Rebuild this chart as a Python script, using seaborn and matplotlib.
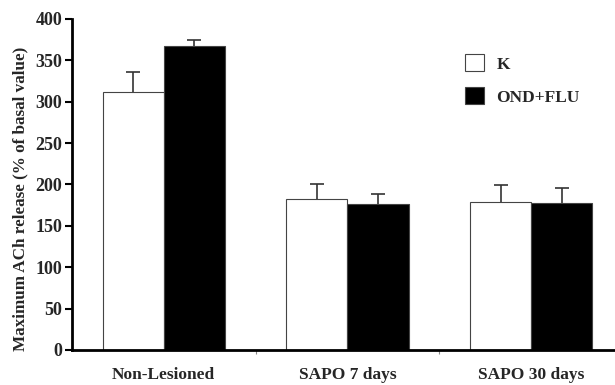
import matplotlib
matplotlib.use("Agg")
import matplotlib.pyplot as plt
import seaborn as sns
import pandas as pd
import numpy as np

groups = ["Non-Lesioned", "SAPO 7 days", "SAPO 30 days"]
series = ["K", "OND+FLU"]
k_values = [312, 182, 179]
ond_values = [367, 176, 177]
k_err = [24, 18, 20]
ond_err = [7, 13, 19]
yticks = [0, 50, 100, 150, 200, 250, 300, 350, 400]

df = pd.DataFrame({
    "group": groups * 2,
    "treatment": [series[0]] * 3 + [series[1]] * 3,
    "value": k_values + ond_values,
    "err": k_err + ond_err,
})

sns.set_theme(style="white")
plt.rcParams["font.family"] = ["Liberation Serif", "DejaVu Serif"]
plt.rcParams["font.weight"] = "bold"

fig = plt.figure(figsize=(6.15, 3.85), dpi=100)
ax = fig.add_axes([0.117, 0.091, 0.89, 0.86])

sns.barplot(data=df, x="group", y="value", hue="treatment", order=groups,
            hue_order=series, palette=["white", "black"], width=0.667,
            edgecolor="#444444", linewidth=0.8, errorbar=None, ax=ax,
            legend=True, saturation=1)

# one-sided (upper) error bars
for i, tr in enumerate(series):
    cont = ax.containers[i]
    sub = df[df["treatment"] == tr].set_index("group").loc[groups]
    xs = [p.get_x() + p.get_width() / 2 for p in cont.patches]
    eb = ax.errorbar(xs, sub["value"].values, yerr=[np.zeros(3), sub["err"].values],
                     fmt="none", ecolor="#333333", elinewidth=1.2, capsize=5,
                     capthick=1.2, zorder=1)
    eb[1][0].remove()

ax.set_ylim(0, 400)
ax.set_xlim(-0.5, 2.48)
ax.set_yticks(yticks)
ax.set_yticklabels([str(v) for v in yticks], fontsize=13, fontweight="bold")
ax.set_xticks(range(3))
ax.set_xticklabels(groups, fontsize=12.5, fontweight="bold")
ax.set_xticks([0.5, 1.5], minor=True)
ax.tick_params(axis="x", which="major", length=0, pad=12)
ax.tick_params(axis="x", which="minor", length=3, width=0.8, color="#888888", direction="out", bottom=True)
ax.tick_params(axis="y", length=5, width=1.5, direction="out", left=True, pad=2, color="black")
ax.set_xlabel("")
ax.set_ylabel("Maximum ACh release (% of basal value)", fontsize=12.3, fontweight="bold")
ax.yaxis.set_label_coords(-0.08, 0.456)

for s in ["top", "right"]:
    ax.spines[s].set_visible(False)
for s in ["left", "bottom"]:
    ax.spines[s].set_color("black")
    ax.spines[s].set_linewidth(2)

leg = ax.legend(loc="upper left", bbox_to_anchor=(0.69, 0.94), frameon=False,
                handlelength=1.1, handleheight=1.1, labelspacing=0.85,
                handletextpad=0.7, prop={"size": 12.5, "weight": "bold"})
for h in leg.legend_handles:
    h.set_edgecolor("#444444")
    h.set_linewidth(0.8)

fig.savefig("out.png", dpi=100)
